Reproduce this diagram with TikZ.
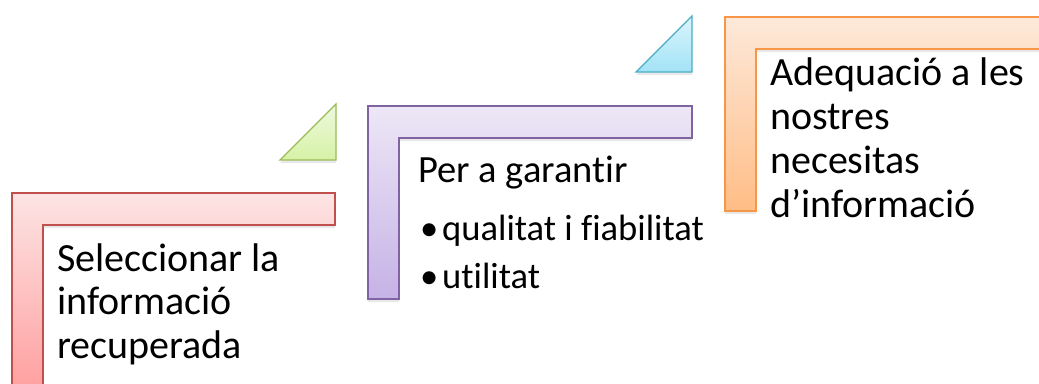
\documentclass[tikz,border=0pt]{standalone}
\usepackage{fontspec}
\setmainfont{Carlito}[Ligatures=NoCommon]
\usetikzlibrary{shadows}
\definecolor{linered}{HTML}{C0504D}\definecolor{topred}{HTML}{FDE4E4}\definecolor{botred}{HTML}{FF9C9C}
\definecolor{linepurple}{HTML}{8064A2}\definecolor{toppurple}{HTML}{EDE7F6}\definecolor{botpurple}{HTML}{C6B2E6}
\definecolor{lineorange}{HTML}{F79646}\definecolor{toporange}{HTML}{FDE9DA}\definecolor{botorange}{HTML}{FFBD86}
\definecolor{linegreen}{HTML}{9BBB59}\definecolor{topgreen}{HTML}{EEF9DE}\definecolor{botgreen}{HTML}{D6F2A6}
\definecolor{lineblue}{HTML}{4BACC6}\definecolor{topblue}{HTML}{DCF4FC}\definecolor{botblue}{HTML}{A2E3F6}
\begin{document}
\begin{tikzpicture}[x=1pt,y=-1pt,
    shaded/.style={line width=1.4pt, line join=miter, draw=line#1, top color=top#1, bottom color=bot#1,
      drop shadow={opacity=0.18, shadow xshift=0pt, shadow yshift=-3pt}},
    steptext/.style={anchor=base west, inner sep=0pt, align=left}]
  \useasboundingbox (0,0) rectangle (1039,383);
  \clip (0,0) rectangle (1039,383);
  % the three steps
  \foreach \x/\y/\r/\b/\c in {12/193/335/400/red, 368/106/692/299/purple, 725/17/1060/211/orange}
    \draw[shaded=\c] (\x,\y) -- (\r,\y) -- (\r,\y+32) -- (\x+31,\y+32) -- (\x+31,\b) -- (\x,\b) -- cycle;
  % the arrows between them
  \foreach \x/\y/\c in {336/160/green, 692/72/blue}
    \draw[shaded=\c] (\x-56,\y) -- (\x,\y) -- (\x,\y-56) -- cycle;
  % texts, placed by the baseline of their last line
  \node[steptext, font=\fontsize{40}{43.5}\selectfont] (select) at (57,358)
    {Seleccionar la\\informació\\recuperada};
  \node[steptext, font=\fontsize{38.5}{44}\selectfont] (assure) at (418,182) {Per a garantir};
  \node[steptext, font=\fontsize{36.6}{48}\selectfont] (items) at (420,288)
    {\makebox[22pt][l]{\textbullet}qualitat i fiabilitat\\\makebox[22pt][l]{\textbullet}utilitat};
  \node[steptext, font=\fontsize{40}{44}\selectfont] (adequate) at (770,217)
    {Adequació a les\\nostres\\necesitas\\d’informació};
\end{tikzpicture}
\end{document}
